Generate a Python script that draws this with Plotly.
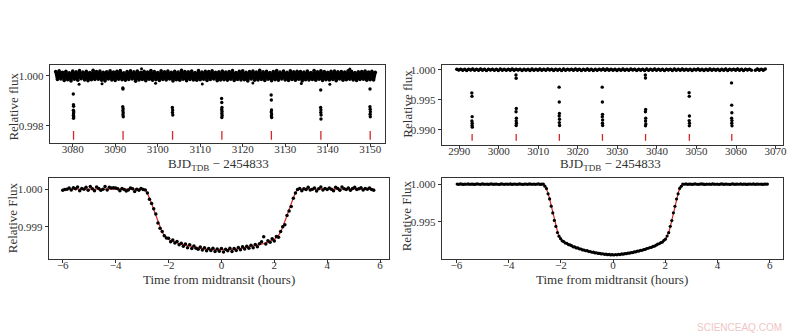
import numpy as np
import plotly.graph_objects as go

# ---------------- DATA ----------------
# Top-left: long-cadence light curve (flux deviations in units of 1e-5)
tl_t0 = 3076.0
tl_dt = 0.4
tl_band_dev = [
    17, -15, 20, -13, 14, -19, 18, -16, 12, -21, 19, -14, 16, -18, 21, -12, 15, -17, 18, -20,
    13, -16, 22, -15, 17, -14, 19, -18, 14, -21, 16, -13, 20, -17, 15, -19, 18, -14, 21, -16,
    12, -18, 17, -15, 20, -13, 16, -22, 19, -17, 14, -15, 18, -20, 15, -14, 21, -18, 17, -16,
    13, -19, 20, -15, 16, -17, 19, -13, 14, -21, 18, -16, 15, -18, 22, -14, 17, -20, 16, -15,
    19, -17, 13, -18, 21, -16, 15, -14, 18, -19, 17, -15, 20, -13, 14, -20, 16, -17, 19, -16,
    15, -18, 17, -14, 21, -19, 13, -15, 18, -17, 20, -16, 14, -21, 17, -13, 19, -18, 15, -17,
    22, -15, 16, -19, 18, -14, 13, -20, 17, -16, 21, -18, 15, -13, 19, -17, 14, -19, 20, -15,
    16, -18, 18, -14, 17, -21, 15, -16, 19, -17, 13, -15, 21, -18, 16, -14, 20, -19, 17, -16,
    14, -17, 18, -15, 19, -20, 16, -13, 17, -18, 15, -16, 20, -14, 18, -17, 13, -19, 16, -15,
    17, -14, 19, -18, 15, -16, 18, -17, 14,
]
tl_out_t = [3081.5, 3086.9, 3096.2, 3099.5, 3110.5, 3133.8, 3140.5, 3145.2, 3122.4]
tl_out_f = [0.99966, 0.99968, 1.00028, 0.99970, 0.99967, 0.99969, 0.99966, 1.00027, 0.99971]
tl_transits = [3080.2, 3091.85, 3103.5, 3115.1, 3126.75, 3138.4, 3150.0]
tl_tr_t = [
    3080.14, 3080.18, 3080.22, 3080.16, 3080.24, 3080.20, 3080.17, 3080.23, 3080.19,
    3091.80, 3091.83, 3091.78, 3091.86, 3091.82, 3091.88, 3091.84, 3091.90,
    3103.45, 3103.52, 3103.48, 3103.55,
    3115.04, 3115.08, 3115.12, 3115.06, 3115.14, 3115.10, 3115.16, 3115.09,
    3126.70, 3126.74, 3126.78, 3126.72, 3126.80, 3126.76, 3126.82,
    3138.36, 3138.34, 3138.40, 3138.38, 3138.44, 3138.42,
    3149.96, 3149.94, 3150.00, 3150.04, 3149.98, 3150.02,
]
tl_tr_f = [
    0.99927, 0.99884, 0.99878, 0.99862, 0.99855, 0.99848, 0.99842, 0.99836, 0.99830,
    0.99951, 0.99947, 0.99876, 0.99868, 0.99860, 0.99852, 0.99844, 0.99836,
    0.99873, 0.99863, 0.99853, 0.99843,
    0.99909, 0.99893, 0.99873, 0.99865, 0.99857, 0.99849, 0.99841, 0.99833,
    0.99923, 0.99903, 0.99863, 0.99855, 0.99847, 0.99839, 0.99833,
    0.99943, 0.99873, 0.99863, 0.99853, 0.99843, 0.99827,
    0.99947, 0.99876, 0.99866, 0.99856, 0.99846, 0.99836,
]

# Top-right: light curve of second planet (flux deviations in units of 1e-5)
tr_t0 = 2989.4
tr_dt = 0.5
tr_band_dev = [
    8, -6, 10, -9, 7, -11, 9, -5, 12, -8, 6, -10, 11, -7, 9, -12, 8, -6, 10, -9,
    7, -11, 12, -8, 6, -9, 10, -7, 11, -10, 9, -6, 8, -12, 10, -8, 7, -11, 12, -9,
    6, -7, 11, -10, 8, -9, 12, -6, 9, -11, 10, -8, 7, -12, 11, -9, 8, -6, 10, -10,
    12, -7, 9, -11, 6, -8, 11, -9, 10, -12, 7, -10, 8, -6, 12, -9, 11, -7, 9, -8,
    10, -11, 6, -9, 12, -8, 7, -10, 11, -6, 9, -12, 8, -7, 10, -11, 12, -9, 6, -8,
    11, -10, 9, -7, 8, -12, 10, -6, 7, -11, 12, -9, 8, -10, 11, -7, 6, -8, 9, -12,
    10, -6, 12, -9, 7, -11, 8, -10, 11, -8, 9, -7, 6, -12, 10, -9, 12, -11, 8, -6,
    9, -7, 11, -10, 8, -12, 10, -6, 9, -8, None, -9, 11, -7, 10, -8, 12,
]
tr_transits = [2993.27, 3004.42, 3015.33, 3026.23, 3037.13, 3048.20, 3058.93]
tr_tr_t = [
    2993.20, 2993.24, 2993.28, 2993.22, 2993.30, 2993.26, 2993.32,
    3004.36, 3004.40, 3004.44, 3004.38, 3004.46, 3004.42, 3004.48, 3004.41,
    3015.27, 3015.31, 3015.35, 3015.29, 3015.37, 3015.33, 3015.39,
    3026.17, 3026.21, 3026.25, 3026.19, 3026.27, 3026.23, 3026.29,
    3037.07, 3037.11, 3037.15, 3037.09, 3037.17, 3037.13, 3037.19, 3037.12,
    3048.14, 3048.18, 3048.22, 3048.16, 3048.24, 3048.20,
    3058.87, 3058.91, 3058.95, 3058.89, 3058.97, 3058.93, 3058.99,
]
tr_tr_f = [
    0.99612, 0.99557, 0.99219, 0.99147, 0.99109, 0.99071, 0.99044,
    0.99913, 0.99858, 0.99355, 0.99300, 0.99191, 0.99147, 0.99109, 0.99071,
    0.99710, 0.99464, 0.99273, 0.99230, 0.99175, 0.99120, 0.99071,
    0.99710, 0.99464, 0.99257, 0.99219, 0.99164, 0.99109, 0.99071,
    0.99913, 0.99863, 0.99339, 0.99300, 0.99191, 0.99147, 0.99098, 0.99066,
    0.99617, 0.99557, 0.99230, 0.99153, 0.99109, 0.99066,
    0.99781, 0.99410, 0.99284, 0.99191, 0.99153, 0.99109, 0.99066,
]

# Bottom-left: phase-folded transit (hours, deviations in units of 1e-5)
bl_t0 = -6.0
bl_dt = 0.08
bl_dev = [
    -3, -1, 0, 3, -2, 4, 1, 6, -4, 2, 0, 5, -3, 7, 1, -4, 6, 2, -3, 0,
    7, -2, 5, 3, 4, 3, 1, -4, 2, -1, -5, -2, 3, 1, -6, 0, -3, 2, -1,
    -2, -10, -27, -38, -52, -66, -90, -104, -113, -124, -130,
    -131, -140, -135, -143, -139, -148, -144, -152, -146, -156, -148, -158, -151, -157, -160,
    -154, -162, -156, -164, -158, -163, -157, -166, -159, -165, -158, -167, -160, -164, -157,
    -166, -158, -163, -155, -161, -153, -159, -152, -157, -149, -156, -147, -153, -145, -140,
    -127, -146, -137, -141, -132, -138, -126, -128, -113, -100, -95, -70, -58, -46, -24, -10, -1,
    2, -4, 1, -1, 5, -2, 0, 3, -5, 1, 6, -2, 2, -1, 3, 0, -4, 5, 2, -3,
    6, 1, -1, 3, -3, 2, 5, -1, 1, 4, -2, 2, 0, 3, -1, -3,
]
bl_model_t = [-6.0, -2.95, -2.85, -2.75, -2.65, -2.55, -2.45, -2.35, -2.25, -2.15, -2.0,
              -1.6, -1.2, -0.8, -0.4, 0.0, 0.4, 0.8, 1.2, 1.6, 2.0, 2.15, 2.25, 2.35,
              2.45, 2.55, 2.65, 2.75, 2.85, 2.95, 5.8]
bl_model_dev = [0, 0, -3, -18, -36, -56, -76, -96, -113, -124, -134,
                -145, -152, -157, -161, -162, -161, -157, -152, -145, -134, -124, -113, -96,
                -76, -56, -36, -18, -3, 0, 0]

# Bottom-right: phase-folded transit (hours, deviations in units of 1e-5)
br_t0 = -5.97
br_dt = 0.06
br_dev = [
    1, -2, 3, 0, -3, 2, -1, 4, -2, 1, 0, -3, 2, 3, -1, -2, 4, 0, -1, 2,
    -3, 1, 3, -2, 0, 2, -1, -4, 3, 1, -2, 2, 0, -1, 3, -3, 1, 2, -2, 0,
    4, -1, -3, 2, 1, -2, 3, 0, -1, 2, -2, 1, 3, -3, 0, 2,
    -27, -58, -128, -196, -293, -382, -483, -562, -643, -692,
    -725, -754, -764, -783, -787, -804, -808, -819, -834, -835,
    -848, -849, -861, -863, -875, -876, -886, -885, -896, -897,
    -906, -905, -915, -913, -922, -920, -928, -926, -934, -932,
    -939, -935, -942, -937,
    -943, -936, -940, -933, -937, -929, -932, -924, -925, -917,
    -919, -910, -911, -902, -901, -891, -890, -881, -880, -870,
    -868, -856, -853, -843, -840, -828, -824, -812, -797, -793,
    -777, -770, -747, -731,
    -690, -645, -561, -484, -381, -294, -197, -128, -57, -28,
    2, -1, 3, -2, 0, 1, -3, 2, 4, -1, -2, 1, 3, 0, -3, 2, -1, 1, -2, 3,
    0, -1, 2, -4, 1, 3, -2, 0, 2, -1, -3, 1, 4, -2, 0, 2, -1, 3, -2, 1,
    0, -3, 2, 1, -1, 3, -2, 0, 2, -1, 1, -3, 2, 0, 1,
]
br_model_t = [-5.97, -2.68, -2.6, -2.55, -2.5, -2.45, -2.4, -2.35, -2.3, -2.25, -2.2, -2.15,
              -2.1, -2.05, -1.9, -1.6, -1.2, -0.8, -0.4, 0.0, 0.4, 0.8, 1.2, 1.6, 1.9,
              2.05, 2.1, 2.15, 2.2, 2.25, 2.3, 2.35, 2.4, 2.45, 2.5, 2.55, 2.6, 2.68, 5.93]
br_model_dev = [0, 0, -20, -60, -110, -170, -240, -320, -400, -480, -555, -620,
                -670, -710, -765, -820, -870, -905, -930, -940, -930, -905, -870, -820, -765,
                -710, -670, -620, -555, -480, -400, -320, -240, -170, -110, -60, -20, 0, 0]

# ---------------- HELPERS ----------------
def to_flux(dev):
    return [None if d is None else 1.0 + d * 1e-5 for d in dev]


def grid(t0, dt, n):
    return [t0 + dt * i for i in range(n)]


def tick_segments(times, lo, hi):
    xs, ys = [], []
    for t in times:
        xs += [t, t, None]
        ys += [lo, hi, None]
    return xs, ys


W, H = 800, 336
SERIF = "Liberation Serif"
AX = "#333333"
RED = "#d62728"

fig = go.Figure()

# Top-left
fig.add_trace(go.Scatter(x=grid(tl_t0, tl_dt, len(tl_band_dev)), y=to_flux(tl_band_dev),
                         mode="lines+markers", line=dict(color="black", width=3),
                         marker=dict(color="black", size=3.5), xaxis="x", yaxis="y"))
fig.add_trace(go.Scatter(x=tl_out_t, y=tl_out_f, mode="markers",
                         marker=dict(color="black", size=3), xaxis="x", yaxis="y"))
fig.add_trace(go.Scatter(x=tl_tr_t, y=tl_tr_f, mode="markers",
                         marker=dict(color="black", size=3.4), xaxis="x", yaxis="y"))
sx, sy = tick_segments(tl_transits, 0.99744, 0.99779)
fig.add_trace(go.Scatter(x=sx, y=sy, mode="lines", line=dict(color=RED, width=1.3),
                         xaxis="x", yaxis="y"))

# Top-right
fig.add_trace(go.Scatter(x=grid(tr_t0, tr_dt, len(tr_band_dev)), y=to_flux(tr_band_dev),
                         mode="lines+markers", line=dict(color="black", width=2.5),
                         marker=dict(color="black", size=3.5), connectgaps=False,
                         xaxis="x2", yaxis="y2"))
fig.add_trace(go.Scatter(x=tr_tr_t, y=tr_tr_f, mode="markers",
                         marker=dict(color="black", size=3.4), xaxis="x2", yaxis="y2"))
sx, sy = tick_segments(tr_transits, 0.98817, 0.98932)
fig.add_trace(go.Scatter(x=sx, y=sy, mode="lines", line=dict(color=RED, width=1.3),
                         xaxis="x2", yaxis="y2"))

# Bottom-left
fig.add_trace(go.Scatter(x=bl_model_t, y=to_flux(bl_model_dev), mode="lines",
                         line=dict(color=RED, width=1.2), xaxis="x3", yaxis="y3"))
fig.add_trace(go.Scatter(x=grid(bl_t0, bl_dt, len(bl_dev)), y=to_flux(bl_dev), mode="markers",
                         marker=dict(color="black", size=3.5), xaxis="x3", yaxis="y3"))

# Bottom-right
fig.add_trace(go.Scatter(x=br_model_t, y=to_flux(br_model_dev), mode="lines",
                         line=dict(color=RED, width=1.2), xaxis="x4", yaxis="y4"))
fig.add_trace(go.Scatter(x=grid(br_t0, br_dt, len(br_dev)), y=to_flux(br_dev), mode="markers",
                         marker=dict(color="black", size=3.2), xaxis="x4", yaxis="y4"))


def axis(domain, rng, tickvals, fmt=None, anchor=None, standoff=0):
    d = dict(domain=domain, range=rng, tickvals=tickvals, showgrid=False, zeroline=False,
             showline=True, mirror=True, linecolor=AX, linewidth=1, ticks="outside",
             ticklen=3, tickwidth=1, tickcolor=AX, anchor=anchor,
             ticklabelstandoff=standoff,
             tickfont=dict(family=SERIF, size=11, color=AX))
    if fmt:
        d["tickformat"] = fmt
    return d


def px(x):
    return x / W


def py(y):
    return 1 - y / H


XS = -7
fig.update_layout(
    width=W, height=H, autosize=False, showlegend=False,
    margin=dict(l=0, r=0, t=0, b=0),
    paper_bgcolor="white", plot_bgcolor="white",
    xaxis=axis([px(50), px(387)], [3074.6, 3153.5], list(range(3080, 3151, 10)), anchor="y", standoff=XS),
    yaxis=axis([py(142), py(64)], [0.99733, 1.00044], [0.998, 1.000], ".3f", anchor="x"),
    xaxis2=axis([px(444), px(787)], [2985.6, 3071.9], list(range(2990, 3071, 10)), anchor="y2", standoff=XS),
    yaxis2=axis([py(144), py(64)], [0.98754, 1.00082], [0.990, 0.995, 1.000], ".3f", anchor="x2"),
    xaxis3=axis([px(49), px(391)], [-6.53, 6.34], [-6, -4, -2, 0, 2, 4, 6], anchor="y3", standoff=XS),
    yaxis3=axis([py(259), py(178)], [0.998135, 1.000284], [0.999, 1.000], ".3f", anchor="x3"),
    xaxis4=axis([px(444), px(787)], [-6.56, 6.51], [-6, -4, -2, 0, 2, 4, 6], anchor="y4", standoff=XS),
    yaxis4=axis([py(259), py(178)], [0.99001, 1.00076], [0.995, 1.000], ".3f", anchor="x4"),
)

title_font = dict(family=SERIF, size=13, color=AX)
ann = [
    (14, 106, "Relative flux", -90),
    (410, 103, "Relative flux", -90),
    (12, 217, "Relative Flux", -90),
    (408, 215, "Relative Flux", -90),
    (220, 164, "BJD<sub>TDB</sub> − 2454833", 0),
    (614, 164, "BJD<sub>TDB</sub> − 2454833", 0),
    (220, 279, "Time from midtransit (hours)", 0),
    (615, 279, "Time from midtransit (hours)", 0),
]
for x, y, txt, ang in ann:
    fig.add_annotation(x=px(x), y=py(y), xref="paper", yref="paper", text=txt,
                       showarrow=False, textangle=ang, font=title_font,
                       xanchor="center", yanchor="middle")

fig.add_annotation(x=px(743), y=py(327), xref="paper", yref="paper", text="SCIENCEAQ.COM",
                   showarrow=False, font=dict(family="Liberation Sans", size=10, color="#f0c4c4"),
                   xanchor="center", yanchor="middle")

fig.write_html("out.html")
